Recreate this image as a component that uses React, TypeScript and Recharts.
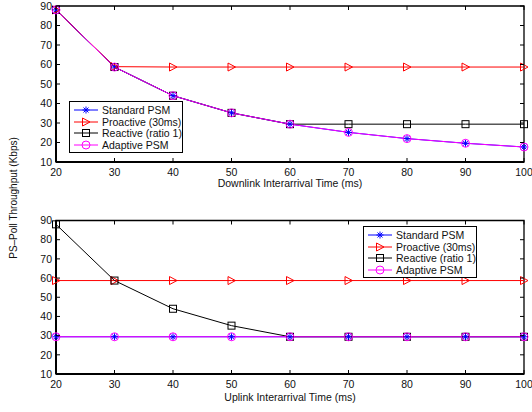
import { Legend, Line, LineChart, ReferenceArea, XAxis, YAxis } from "recharts";

const intervals = [20, 30, 40, 50, 60, 70, 80, 90, 100];
const yTicks = [10, 20, 30, 40, 50, 60, 70, 80, 90];

// downlink panel
const downStandard = [88, 58.7, 44, 35.2, 29.4, 25.2, 22, 19.6, 17.7];
const downProactive = [88, 58.9, 58.7, 58.7, 58.7, 58.7, 58.7, 58.7, 58.7];
const downReactive = [88, 58.7, 44, 35.2, 29.4, 29.4, 29.4, 29.4, 29.4];
const downAdaptive = [88, 58.7, 44, 35.2, 29.4, 25.2, 22, 19.6, 17.7];

// uplink panel
const upStandard = [29.4, 29.4, 29.4, 29.4, 29.4, 29.4, 29.4, 29.4, 29.4];
const upProactive = [58.7, 58.7, 58.7, 58.7, 58.7, 58.7, 58.7, 58.7, 58.7];
const upReactive = [88, 58.7, 44, 35.2, 29.4, 29.4, 29.4, 29.4, 29.4];
const upAdaptive = [29.4, 29.4, 29.4, 29.4, 29.4, 29.4, 29.4, 29.4, 29.4];

const seriesNames = ["Standard PSM", "Proactive (30ms)", "Reactive (ratio 1)", "Adaptive PSM"];
const seriesKeys = ["standard", "proactive", "reactive", "adaptive"];
const seriesColors = ["#0000ff", "#ff0000", "#000000", "#ff00ff"];
const seriesShapes = ["asterisk", "triangle", "square", "circle"];

const FONT = "'Liberation Sans', Arial, sans-serif";
const FS = 10.5;

function buildRows(cols: number[][]) {
  return intervals.map((t, i) => ({
    t,
    standard: cols[0][i],
    proactive: cols[1][i],
    reactive: cols[2][i],
    adaptive: cols[3][i],
  }));
}

const downRows = buildRows([downStandard, downProactive, downReactive, downAdaptive]);
const upRows = buildRows([upStandard, upProactive, upReactive, upAdaptive]);

function Marker({ shape, cx, cy, color }: { shape: string; cx: number; cy: number; color: string }) {
  if (shape === "asterisk") {
    const r = 3.5;
    const d = 2.5;
    return (
      <g stroke={color} strokeWidth={1}>
        <line x1={cx - r} y1={cy} x2={cx + r} y2={cy} />
        <line x1={cx} y1={cy - r} x2={cx} y2={cy + r} />
        <line x1={cx - d} y1={cy - d} x2={cx + d} y2={cy + d} />
        <line x1={cx - d} y1={cy + d} x2={cx + d} y2={cy - d} />
      </g>
    );
  }
  if (shape === "triangle") {
    return (
      <polygon
        points={`${cx - 3.5},${cy - 4} ${cx + 4},${cy} ${cx - 3.5},${cy + 4}`}
        fill="none"
        stroke={color}
        strokeWidth={1}
      />
    );
  }
  if (shape === "square") {
    return <rect x={cx - 3.5} y={cy - 3.5} width={7} height={7} fill="none" stroke={color} strokeWidth={1} />;
  }
  return <circle cx={cx} cy={cy} r={4} fill="none" stroke={color} strokeWidth={1} />;
}

function dotFor(shape: string, color: string) {
  return (props: any) => (
    <Marker key={`${shape}-${props.index}`} shape={shape} cx={props.cx} cy={props.cy} color={color} />
  );
}

function XTick({ x, y, payload, plotHeight }: any) {
  return (
    <g>
      <line x1={x} y1={y} x2={x} y2={y - 4} stroke="#000" />
      <line x1={x} y1={y - plotHeight} x2={x} y2={y - plotHeight + 4} stroke="#000" />
      <text x={x} y={y + 13.5} textAnchor="middle" fontSize={FS} fontFamily={FONT} fill="#111">
        {payload.value}
      </text>
    </g>
  );
}

function YTick({ x, y, payload, plotWidth }: any) {
  return (
    <g>
      <line x1={x} y1={y} x2={x + 4} y2={y} stroke="#000" />
      <line x1={x + plotWidth} y1={y} x2={x + plotWidth - 4} y2={y} stroke="#000" />
      <text x={x - 4} y={y + 3.8} textAnchor="end" fontSize={FS} fontFamily={FONT} fill="#111">
        {payload.value}
      </text>
    </g>
  );
}

function renderLegend(props: any) {
  const items = [...(props.payload || [])].sort(
    (a: any, b: any) => seriesNames.indexOf(a.value) - seriesNames.indexOf(b.value)
  );
  return (
    <div
      style={{
        border: "1.5px solid #000",
        background: "#fff",
        boxSizing: "border-box",
        width: 114,
        height: 52,
        padding: "2px 0 0 3px",
        fontFamily: FONT,
        fontSize: FS,
        color: "#111",
      }}
    >
      {items.map((item: any) => {
        const idx = seriesNames.indexOf(item.value);
        return (
          <div key={item.value} style={{ display: "flex", alignItems: "center", height: 11.7 }}>
            <svg width={26} height={10} style={{ marginRight: 3 }}>
              <line x1={1} y1={5} x2={25} y2={5} stroke={seriesColors[idx]} strokeWidth={1} />
              <Marker shape={seriesShapes[idx]} cx={13} cy={5} color={seriesColors[idx]} />
            </svg>
            <span style={{ whiteSpace: "nowrap" }}>{item.value}</span>
          </div>
        );
      })}
    </div>
  );
}

type PanelProps = {
  rows: any[];
  xLabel: string;
  height: number;
  top: number;
  bottom: number;
  labelOffset: number;
  legendLeft: number;
  legendTop: number;
};

function Panel({ rows, xLabel, height, top, bottom, labelOffset, legendLeft, legendTop }: PanelProps) {
  const width = 532;
  const margin = { top, right: 8, bottom, left: 16 };
  const plotWidth = width - margin.left - margin.right - 40;
  const plotHeight = height - top - bottom - 30;
  return (
    <LineChart width={width} height={height} data={rows} margin={margin}>
      <XAxis
        dataKey="t"
        type="number"
        domain={[20, 100]}
        ticks={intervals}
        interval={0}
        height={30}
        tickSize={0}
        tickMargin={0}
        tickLine={false}
        axisLine={{ stroke: "#000", strokeWidth: 2 }}
        tick={<XTick plotHeight={plotHeight} />}
        label={{ value: xLabel, position: "insideBottom", offset: labelOffset, fontSize: FS, fontFamily: FONT, fill: "#111" }}
      />
      <YAxis
        type="number"
        domain={[10, 90]}
        ticks={yTicks}
        interval={0}
        width={40}
        tickSize={0}
        tickMargin={0}
        tickLine={false}
        axisLine={{ stroke: "#000", strokeWidth: 2 }}
        tick={<YTick plotWidth={plotWidth} />}
      />
      <ReferenceArea x1={20} x2={100} y1={10} y2={90} fill="none" stroke="#000" strokeWidth={1.3} />
      {seriesKeys.map((key, i) => (
        <Line
          key={key}
          type="linear"
          dataKey={key}
          name={seriesNames[i]}
          stroke={seriesColors[i]}
          strokeWidth={1}
          dot={dotFor(seriesShapes[i], seriesColors[i])}
          activeDot={false}
          isAnimationActive={false}
        />
      ))}
      <Legend
        layout="vertical"
        align="center"
        verticalAlign="middle"
        content={renderLegend}
        wrapperStyle={{ left: legendLeft, top: legendTop, width: 114 }}
      />
    </LineChart>
  );
}

export default function App() {
  return (
    <div style={{ position: "absolute", left: 0, top: 0, width: 532, height: 412, background: "#fff", fontFamily: FONT }}>
      <div style={{ position: "absolute", left: 0, top: 0 }}>
        <Panel
          rows={downRows}
          xLabel="Downlink Interarrival Time (ms)"
          height={200}
          top={6}
          bottom={8}
          labelOffset={5}
          legendLeft={69}
          legendTop={101}
        />
      </div>
      <div style={{ position: "absolute", left: 0, top: 200 }}>
        <Panel
          rows={upRows}
          xLabel="Uplink Interarrival Time (ms)"
          height={212}
          top={20.5}
          bottom={8}
          labelOffset={3}
          legendLeft={363}
          legendTop={26}
        />
      </div>
      <div
        style={{
          position: "absolute",
          left: 13,
          top: 198,
          transform: "translate(-50%, -50%) rotate(-90deg)",
          whiteSpace: "nowrap",
          fontSize: 10,
          color: "#111",
        }}
      >
        PS–Poll Throughput (Kbps)
      </div>
    </div>
  );
}
